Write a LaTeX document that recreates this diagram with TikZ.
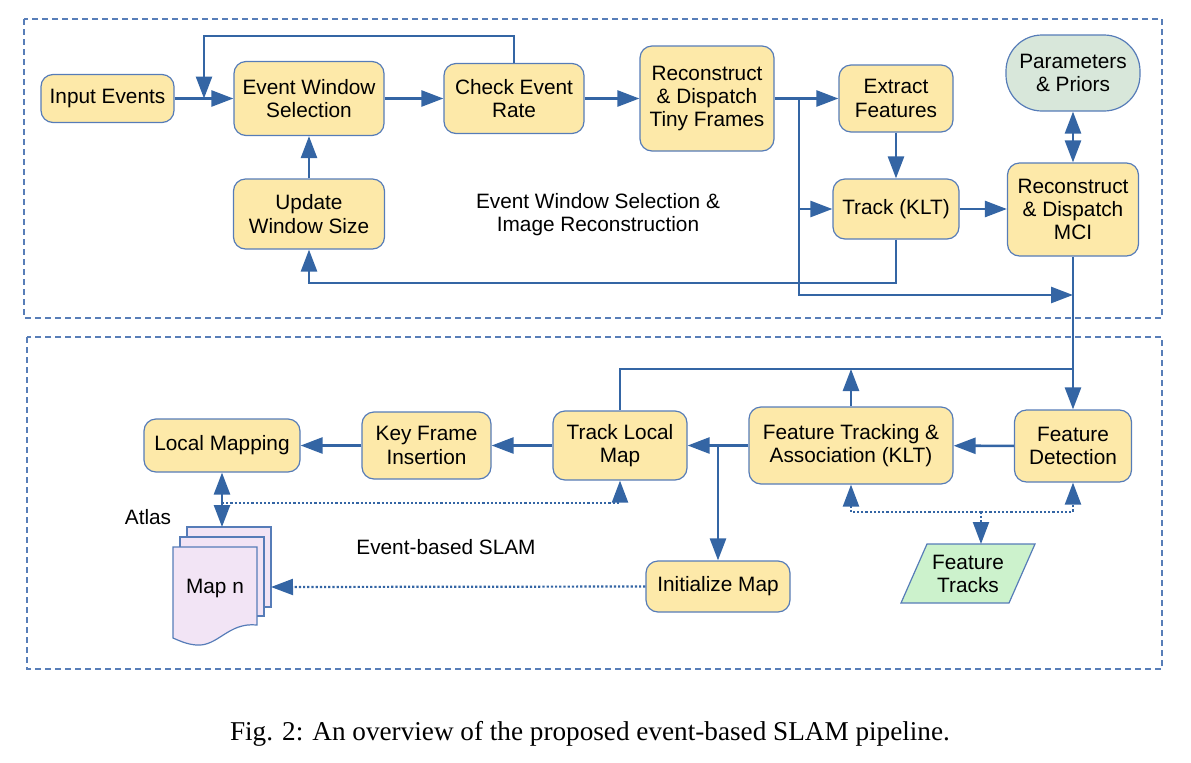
\documentclass[tikz,border=0pt]{standalone}
\usepackage{fontspec}
\setmainfont{Liberation Sans}
\newfontfamily\capfont{Liberation Serif}
\usetikzlibrary{arrows.meta}
\definecolor{linecol}{RGB}{52,101,164}
\definecolor{bordercol}{RGB}{86,124,184}
\definecolor{regioncol}{RGB}{88,126,184}
\definecolor{boxfill}{RGB}{253,233,169}
\definecolor{parfill}{RGB}{216,231,218}
\definecolor{ftfill}{RGB}{204,242,204}
\definecolor{mapfill}{RGB}{242,228,245}
\begin{document}
\begin{tikzpicture}[x=0.5pt,y=-0.5pt,
 box/.style={draw=bordercol, fill=boxfill, line width=0.6pt, rounded corners=6pt, align=center, inner sep=0pt, font=\fontsize{10.4}{11.6}\selectfont},
 conn/.style={draw=linecol, line width=1.3pt, -{Triangle[length=11pt,width=8pt]}},
 conntwo/.style={draw=linecol, line width=1.3pt, {Triangle[length=11pt,width=8pt]}-{Triangle[length=11pt,width=8pt]}},
 plainline/.style={draw=linecol, line width=1.3pt},
 dotconn/.style={draw=linecol, line width=1.1pt, dash pattern=on 1.1pt off 1pt, -{Triangle[length=11pt,width=8pt]}},
 lbl/.style={font=\fontsize{10.4}{11.6}\selectfont, align=center, inner sep=0pt},
 region/.style={draw=regioncol, line width=0.6pt, dash pattern=on 3pt off 2pt},
 page/.style={draw=bordercol, fill=mapfill, line width=0.6pt}
]
\useasboundingbox (0,0) rectangle (1191,762);
% regions
\draw[region] (24,19) rectangle (1162,318);
\draw[region] (27,337) rectangle (1162,669);

% top nodes
\node[box, minimum width=66.5pt, minimum height=24pt] (in) at (107.5,98.5) {Input Events};
\node[box, minimum width=75pt, minimum height=37pt] (ews) at (309,98.5) {Event Window\\Selection};
\node[box, minimum width=75.5pt, minimum height=35pt] (uws) at (309,214) {Update\\Window Size};
\node[box, minimum width=70pt, minimum height=35pt] (cer) at (514,98.5) {Check Event\\Rate};
\node[box, minimum width=67pt, minimum height=52.5pt] (rtf) at (707,98.5) {Reconstruct\\\& Dispatch\\Tiny Frames};
\node[box, minimum width=57pt, minimum height=33.5pt] (ef) at (896,98.5) {Extract\\Features};
\node[box, minimum width=63pt, minimum height=30pt] (klt) at (896,209) {Track (KLT)};
\node[box, fill=parfill, rounded corners=18pt, minimum width=67pt, minimum height=38pt] (par) at (1073,73) {Parameters\\\& Priors};
\node[box, minimum width=65.5pt, minimum height=46.5pt] (mci) at (1073,209.5) {Reconstruct\\\& Dispatch\\MCI};
\node[lbl] (lblA) at (598,215) {Event Window Selection \&\\Image Reconstruction};

% bottom nodes
\node[box, minimum width=78pt, minimum height=26.5pt] (lm) at (222,445.5) {Local Mapping};
\node[box, minimum width=64.5pt, minimum height=33.5pt] (kfi) at (426.5,445.5) {Key Frame\\Insertion};
\node[box, minimum width=67pt, minimum height=34.5pt] (tlm) at (620,445.5) {Track Local\\Map};
\node[box, minimum width=102pt, minimum height=38.5pt] (fta) at (851,445.5) {Feature Tracking \&\\Association (KLT)};
\node[box, minimum width=58.5pt, minimum height=36pt] (fd) at (1073,446) {Feature\\Detection};
\node[box, minimum width=72pt, minimum height=25.5pt] (im) at (718,586.5) {Initialize Map};
\node[lbl] (atlas) at (148,517) {Atlas};
\node[lbl] (lblB) at (446,547) {Event-based SLAM};

% map stack
\draw[page] (187,527) rectangle (271,607);
\draw[page] (180,537) rectangle (264,616);
\draw[page] (173,547) -- (257,547) -- (257,625) .. controls (228,622) and (218,647) .. (196,645) .. controls (186,644) and (180,641) .. (173,638) -- cycle;
\node[lbl] (mapn) at (215,588) {Map n};
\coordinate (stacktop) at (222,527);
\coordinate (stackright) at (271,587);

% feature tracks
\draw[draw=bordercol, fill=ftfill, line width=0.6pt] (901,603) -- (927,544) -- (1035,544) -- (1009,603) -- cycle;
\node[lbl] (ftr) at (968,574) {Feature\\Tracks};
\coordinate (ftrtop) at (981,544);

% top connectors
\coordinate (loopA) at (204,36);
\coordinate (loopB) at (204,98.5);
\draw[conn] (in) -- (ews);
\draw[conn] (cer.north) |- (loopA) -- (loopB);
\draw[conn] (ews) -- (cer);
\draw[conn] (cer) -- (rtf);
\draw[conn] (rtf) -- (ef);
\coordinate (j1) at (799,98.5);
\coordinate (j2) at (799,295);
\coordinate (j3) at (1073,295);
\coordinate (j4) at (799,209);
\draw[conn] (j1) -- (j2) -- (j3);
\draw[conn] (j4) -- (klt.west);
\draw[conn] (ef) -- (klt);
\draw[conn] (klt.east) -- (mci.west |- klt.east);
\coordinate (j5) at (309,283);
\draw[conn] (klt.south) |- (j5) -- (uws.south);
\draw[conn] (uws) -- (ews);
\draw[conntwo] (par) -- (mci);
\draw[conn] (mci) -- (fd);

% bottom connectors
\coordinate (j6) at (1073,369);
\coordinate (j7) at (851,369);
\draw[plainline] (j6) -| (tlm.north);
\draw[conn] (fta.north) -- (j7);
\draw[conn] (fd) -- (fta);
\draw[conn] (fta) -- (tlm);
\coordinate (j8) at (718,445.5);
\draw[conn] (j8) -- (im.north);
\draw[conn] (tlm) -- (kfi);
\draw[conn] (kfi) -- (lm);
\draw[conntwo] (lm.south) -- (stacktop);
\coordinate (j9) at (222,503);
\coordinate (j10) at (620,503);
\draw[dotconn] (j9) -- (j10) -- (tlm.south);
\draw[dotconn] (im.west) -- (stackright);
\coordinate (k1) at (851,512);
\coordinate (k2) at (1073,512);
\coordinate (k3) at (981,512);
\draw[dotconn] (k3) -- (k1) -- (fta.south);
\draw[dotconn] (k3) -- (k2) -- (fd.south);
\draw[dotconn] (k3) -- (ftrtop);

% caption
\node[inner sep=0pt, font=\capfont\fontsize{13.6}{16}\selectfont] (cap) at (590,734) {Fig. 2: An overview of the proposed event-based SLAM pipeline.};
\end{tikzpicture}
\end{document}
